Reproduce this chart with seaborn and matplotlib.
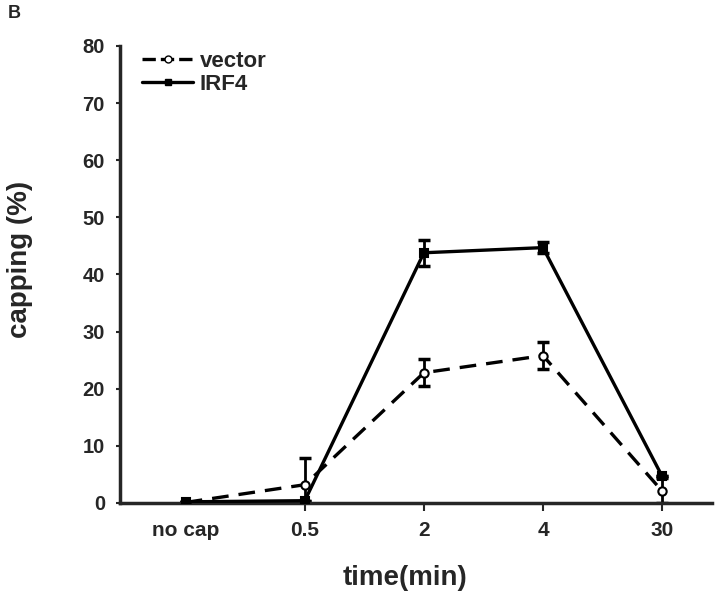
import numpy as np
import pandas as pd
import seaborn as sns
import matplotlib.pyplot as plt
from matplotlib.lines import Line2D

# values
time_labels = ['no cap', '0.5', '2', '4', '30']
vector_mean = [0.1, 3.2, 22.8, 25.8, 2.1]
vector_err_low = [0.0, 3.2, 2.4, 2.4, 2.1]
vector_err_high = [0.0, 4.7, 2.4, 2.4, 2.3]
irf4_mean = [0.2, 0.4, 43.8, 44.7, 4.7]
irf4_err = [0.0, 0.0, 2.3, 1.0, 0.0]

sns.set_style('ticks')
plt.rcParams['font.family'] = ['Liberation Sans', 'DejaVu Sans']
plt.rcParams['font.weight'] = 'bold'

pos = np.arange(len(time_labels))
df = pd.DataFrame({
    'pos': np.concatenate([pos, pos]),
    'capping': vector_mean + irf4_mean,
    'group': ['vector'] * len(pos) + ['IRF4'] * len(pos),
})

fig = plt.figure(figsize=(7.2, 5.97), dpi=100)
ax = fig.add_axes([0.167, 0.1575, 0.822, 0.7655])

# error bars first, so markers sit on top
ax.errorbar(pos, vector_mean, yerr=[vector_err_low, vector_err_high], fmt='none',
            ecolor='black', elinewidth=2, capsize=4.5, capthick=2.5, zorder=2)
ax.errorbar(pos, irf4_mean, yerr=irf4_err, fmt='none',
            ecolor='black', elinewidth=2, capsize=4.5, capthick=2.5, zorder=2)

sns.lineplot(data=df, x='pos', y='capping', hue='group', style='group',
             palette={'vector': 'black', 'IRF4': 'black'},
             dashes={'vector': (5, 3), 'IRF4': ''},
             markers={'vector': 'o', 'IRF4': 's'},
             linewidth=2.4, markersize=6, legend=False, ax=ax, zorder=3)
for ln, face in zip(ax.lines[-2:], ['white', 'black']):
    ln.set_markerfacecolor(face)
    ln.set_markeredgecolor('black')
    ln.set_markeredgewidth(1.5)

ax.set_xlim(-0.55, 4.42)
ax.set_ylim(0, 80)
ax.set_yticks(range(0, 81, 10))
ax.set_xticks(pos)
ax.set_xticklabels(time_labels)
ax.xaxis.get_major_ticks()[0].tick1line.set_visible(False)
ax.tick_params(axis='both', width=1.5, direction='out')
ax.tick_params(axis='x', length=6, pad=7, labelsize=15)
ax.tick_params(axis='y', length=3, pad=8, labelsize=14.5)
for lab in ax.get_xticklabels() + ax.get_yticklabels():
    lab.set_fontweight('bold')

sns.despine(ax=ax)
ax.spines['left'].set_linewidth(2.5)
ax.spines['bottom'].set_linewidth(2.5)

ax.set_xlabel('time(min)', fontsize=20, fontweight='bold', va='center')
ax.set_ylabel('capping (%)', fontsize=20, fontweight='bold', va='center')
ax.xaxis.set_label_coords(0.481, -0.164)
ax.yaxis.set_label_coords(-0.169, 0.532)

handles = [
    Line2D([], [], color='black', linestyle=(0, (4, 1.5)), linewidth=2.4, marker='o',
           markerfacecolor='white', markeredgecolor='black', markersize=5),
    Line2D([], [], color='black', linestyle='-', linewidth=2.4, marker='s',
           markerfacecolor='black', markersize=5),
]
ax.legend(handles, ['vector', 'IRF4'], loc='upper left', bbox_to_anchor=(0.037, 0.99),
          borderaxespad=0, borderpad=0, frameon=False,
          prop={'size': 16, 'weight': 'bold'},
          handlelength=2.3, handletextpad=0.3, labelspacing=0.1)

fig.text(0.011, 0.978, 'B', fontsize=13, fontweight='bold', va='center', ha='left')

fig.savefig('out.png', dpi=100)
